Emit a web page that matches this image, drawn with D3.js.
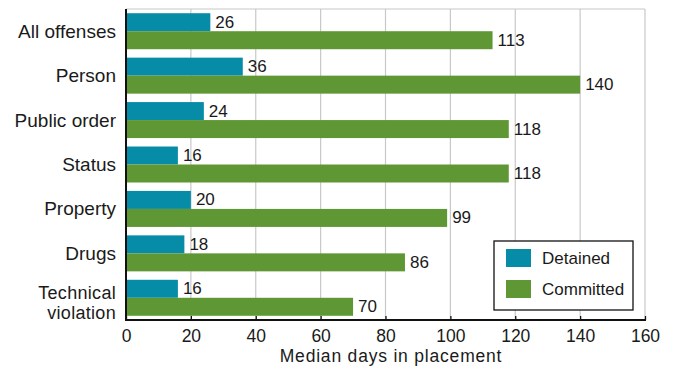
<!DOCTYPE html>
<html>
<head>
<meta charset="utf-8">
<script src="https://cdn.jsdelivr.net/npm/d3@7"></script>
<style>
  html, body { margin: 0; padding: 0; background: #fff; }
  svg { display: block; font-family: "Liberation Sans", Arial, Helvetica, sans-serif; }
</style>
</head>
<body>
<svg id="chart" width="676" height="367"></svg>
<script>
// Median days in placement by most serious offense
const categories = ["All offenses", "Person", "Public order", "Status", "Property", "Drugs", "Technical violation"];
const categoryLines = [["All offenses"], ["Person"], ["Public order"], ["Status"], ["Property"], ["Drugs"], ["Technical", "violation"]];
const seriesNames = ["Detained", "Committed"];
const detained = [26, 36, 24, 16, 20, 18, 16];
const committed = [113, 140, 118, 118, 99, 86, 70];
const xTicks = [0, 20, 40, 60, 80, 100, 120, 140, 160];
const colors = ["#078ca8", "#5e9733"];

const svg = d3.select("#chart");
const margin = { left: 126, right: 31, top: 9, bottom: 47 };
const W = 676, H = 367;

const x = d3.scaleLinear().domain([0, 160]).range([margin.left, W - margin.right]);
const y = d3.scaleBand().domain(categories).range([margin.top, H - margin.bottom])
  .paddingInner(0.19).paddingOuter(0.095);
const sub = d3.scaleBand().domain(seriesNames).range([0, y.bandwidth()]);

const textColor = "#1a1a1a";
const baseY = H - margin.bottom;

// grid lines
svg.append("g").selectAll("line").data(xTicks.slice(1)).join("line")
  .attr("x1", d => x(d)).attr("x2", d => x(d))
  .attr("y1", margin.top).attr("y2", baseY)
  .attr("stroke", "#c8c8c8").attr("stroke-width", 1.2);
svg.append("line")
  .attr("x1", margin.left).attr("x2", x(160))
  .attr("y1", margin.top).attr("y2", margin.top)
  .attr("stroke", "#c8c8c8").attr("stroke-width", 1.2);

// bars
const rows = categories.map((c, i) => ({ c, vals: [detained[i], committed[i]] }));
const g = svg.append("g").selectAll("g").data(rows).join("g")
  .attr("transform", d => `translate(0,${y(d.c)})`);
g.selectAll("rect").data(d => d.vals.map((v, k) => ({ v, s: seriesNames[k], k }))).join("rect")
  .attr("x", x(0)).attr("y", d => sub(d.s))
  .attr("width", d => x(d.v) - x(0)).attr("height", sub.bandwidth())
  .attr("fill", d => colors[d.k]);
g.selectAll("text").data(d => d.vals.map((v, k) => ({ v, s: seriesNames[k] }))).join("text")
  .attr("x", d => x(d.v) + 5).attr("y", d => sub(d.s) + sub.bandwidth() / 2 + 5.5)
  .attr("font-size", 17).attr("fill", textColor)
  .text(d => d.v);

// category labels (two-line labels are set a touch smaller so the lines clear each other)
const cat = svg.append("g").selectAll("text").data(categories).join("text")
  .attr("text-anchor", "end").attr("fill", textColor)
  .attr("font-size", (d, i) => categoryLines[i].length > 1 ? 18 : 19)
  .attr("letter-spacing", (d, i) => categoryLines[i].length > 1 ? 0.3 : 0)
  .attr("transform", d => `translate(${margin.left - 10},${y(d) + y.bandwidth() / 2})`);
cat.each(function (d, i) {
  const lines = categoryLines[i];
  const n = lines.length;
  d3.select(this).selectAll("tspan").data(lines).join("tspan")
    .attr("x", 0)
    .attr("y", (l, j) => n === 1 ? 6.5 : 1 + j * 20.3)
    .text(l => l);
});

// x axis
const xAxis = svg.append("g").attr("transform", `translate(0,${baseY})`)
  .call(d3.axisBottom(x).tickValues(xTicks).tickSize(0).tickFormat(d3.format("d")));
xAxis.select(".domain").remove();
xAxis.selectAll("text").attr("font-size", 17.5).attr("fill", textColor)
  .attr("y", 21.5).attr("dy", 0)
  .style("font-family", "'Liberation Sans', Arial, sans-serif");
// short inner tick marks
xAxis.selectAll(".tick line").attr("y2", -4).attr("stroke", "#111").attr("stroke-width", 1.3);

// axis lines
svg.append("line").attr("x1", margin.left - 1).attr("x2", x(160) + 1)
  .attr("y1", baseY).attr("y2", baseY)
  .attr("stroke", "#111").attr("stroke-width", 2.2);
svg.append("line").attr("x1", margin.left).attr("x2", margin.left)
  .attr("y1", margin.top).attr("y2", baseY)
  .attr("stroke", "#111").attr("stroke-width", 2);

// axis title
svg.append("text").attr("x", 391).attr("y", 361.5)
  .attr("text-anchor", "middle").attr("font-size", 17.5).attr("fill", textColor)
  .attr("letter-spacing", 0.8)
  .text("Median days in placement");

// legend
const lg = svg.append("g").attr("transform", "translate(494,241)");
lg.append("rect").attr("width", 139).attr("height", 69)
  .attr("fill", "#fff").attr("stroke", "#111").attr("stroke-width", 1.3);
seriesNames.forEach((s, k) => {
  lg.append("rect").attr("x", 12).attr("y", 8 + k * 31).attr("width", 25).attr("height", 18)
    .attr("fill", colors[k]);
  lg.append("text").attr("x", 48).attr("y", 23.3 + k * 31)
    .attr("font-size", 17).attr("fill", textColor).text(s);
});
</script>
</body>
</html>
